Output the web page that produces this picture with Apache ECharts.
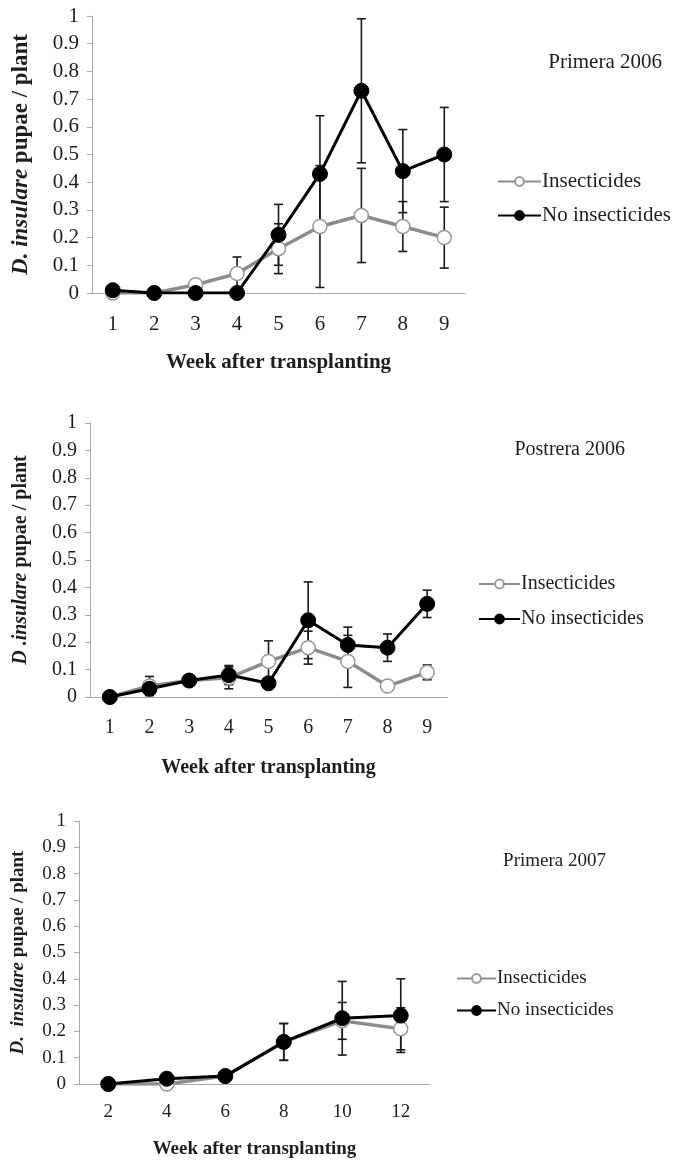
<!DOCTYPE html>
<html>
<head>
<meta charset="utf-8">
<script src="https://cdn.jsdelivr.net/npm/echarts@6/dist/echarts.min.js"></script>
<style>
html,body{margin:0;padding:0;background:#fff;}
#c{width:673px;height:1160px;}
</style>
</head>
<body>
<div id="c"></div>
<script>
// ---- data ----
var weeks1 = ['1','2','3','4','5','6','7','8','9'];
var p1Ins    = [0, 0, 0.03, 0.07, 0.16, 0.24, 0.28, 0.24, 0.20];
var p1InsErr = [0, 0, 0, 0.06, 0.09, 0.22, 0.17, 0.09, 0.11];
var p1No     = [0.01, 0, 0, 0, 0.21, 0.43, 0.73, 0.44, 0.50];
var p1NoErr  = [0, 0, 0, 0, 0.11, 0.21, 0.26, 0.15, 0.17];

var weeks2 = ['1','2','3','4','5','6','7','8','9'];
var p2Ins    = [0, 0.04, 0.06, 0.07, 0.13, 0.18, 0.13, 0.04, 0.09];
var p2InsErr = [0, 0.035, 0, 0.04, 0.075, 0.06, 0.095, 0, 0.027];
var p2No     = [0, 0.03, 0.06, 0.08, 0.05, 0.28, 0.19, 0.18, 0.34];
var p2NoErr  = [0, 0.02, 0, 0.035, 0, 0.14, 0.065, 0.05, 0.05];

var weeks3 = ['2','4','6','8','10','12'];
var p3Ins    = [0, 0, 0.03, 0.16, 0.24, 0.21];
var p3InsErr = [0, 0, 0, 0.07, 0.07, 0.08];
var p3No     = [0, 0.02, 0.03, 0.16, 0.25, 0.26];
var p3NoErr  = [0, 0, 0, 0.07, 0.14, 0.14];

var panelTitles = ['Primera 2006', 'Postrera 2006', 'Primera 2007'];
var yNames = ['D. insulare', 'D .insulare', 'D.  insulare'];
var xName = 'Week after transplanting';
var seriesNames = ['Insecticides', 'No insecticides'];

// ---- styles ----
var FONT = 'Liberation Serif';
var GRAY = '#8c8c8c';
var AXIS = '#a8a8a8';
var TXT = '#1e1e1e';

var chart = echarts.init(document.getElementById('c'), null, {renderer:'canvas'});

var grids = [
  {left:92, top:16, width:373, height:277},
  {left:90, top:423, width:357, height:274},
  {left:79, top:821, width:351, height:263}
];
var cats = [weeks1, weeks2, weeks3];
var ins = [p1Ins, p2Ins, p3Ins], insErr = [p1InsErr, p2InsErr, p3InsErr];
var no = [p1No, p2No, p3No], noErr = [p1NoErr, p2NoErr, p3NoErr];

function errData(vals, errs){
  var out = [];
  for (var i=0;i<vals.length;i++){
    if (errs[i] > 0) out.push([i, vals[i]-errs[i], vals[i]+errs[i]]);
  }
  return out;
}
function errRender(params, api){
  var x = api.value(0), lo = api.value(1), hi = api.value(2);
  var t = api.coord([x, hi]), b = api.coord([x, lo]);
  var w = 4.5;
  var st = {stroke:'#1a1a1a', lineWidth:1.6};
  return {type:'group', children:[
    {type:'line', shape:{x1:t[0],y1:t[1],x2:b[0],y2:b[1]}, style:st},
    {type:'line', shape:{x1:t[0]-w,y1:t[1],x2:t[0]+w,y2:t[1]}, style:st},
    {type:'line', shape:{x1:b[0]-w,y1:b[1],x2:b[0]+w,y2:b[1]}, style:st}
  ]};
}

var xAxes = [], yAxes = [], series = [], titles = [], legends = [];
var fs = [21, 20, 19];          // tick / legend / axis-name font sizes per panel
var yNameFs = [23, 20, 19];
var labelMarginX = [21, 21, 19];
var nameGapX = [59, 61, 56];
var nameGapY = [59, 59, 51];
var titlePos = [[6,47],[43,435],[62,847]];   // right, top
var legendPos = [[497,171,13,43],[478,574,15,41],[456,969,13,39]];

for (var k=0;k<3;k++){
  xAxes.push({
    type:'category', gridIndex:k, data:cats[k], boundaryGap:true,
    axisLine:{lineStyle:{color:AXIS, width:1}},
    axisTick:{show:false},
    axisLabel:{color:TXT, fontFamily:FONT, fontSize:fs[k], margin:labelMarginX[k]},
    name:xName, nameLocation:'middle', nameGap:nameGapX[k],
    nameTextStyle:{color:TXT, fontFamily:FONT, fontSize:fs[k], fontWeight:'bold'}
  });
  yAxes.push({
    type:'value', gridIndex:k, min:0, max:1, interval:0.1,
    splitLine:{show:false},
    axisLine:{show:true, lineStyle:{color:AXIS, width:1}},
    axisTick:{show:true, length:5, lineStyle:{color:AXIS}},
    axisLabel:{color:TXT, fontFamily:FONT, fontSize:fs[k], margin:13},
    name:'{i|' + yNames[k] + '}{b| pupae / plant}',
    nameLocation:'middle', nameRotate:90, nameGap:nameGapY[k],
    nameTextStyle:{color:TXT, fontFamily:FONT, fontSize:yNameFs[k],
      rich:{
        i:{fontFamily:FONT, fontSize:yNameFs[k], fontWeight:'bold', fontStyle:'italic', color:TXT},
        b:{fontFamily:FONT, fontSize:yNameFs[k], fontWeight:'bold', color:TXT}
      }}
  });
  series.push({
    type:'custom', name:'errIns'+k, xAxisIndex:k, yAxisIndex:k, z:1,
    renderItem:errRender, data:errData(ins[k], insErr[k]), silent:true
  });
  series.push({
    type:'custom', name:'errNo'+k, xAxisIndex:k, yAxisIndex:k, z:1,
    renderItem:errRender, data:errData(no[k], noErr[k]), silent:true
  });
  series.push({
    type:'line', name:seriesNames[0], xAxisIndex:k, yAxisIndex:k, z:3,
    data:ins[k], symbol:'circle', symbolSize:14, showAllSymbol:true,
    lineStyle:{color:GRAY, width:3.5},
    itemStyle:{color:'#ffffff', borderColor:'#999999', borderWidth:1.5},
    animation:false
  });
  series.push({
    type:'line', name:seriesNames[1], xAxisIndex:k, yAxisIndex:k, z:4,
    data:no[k], symbol:'circle', symbolSize:15, showAllSymbol:true,
    lineStyle:{color:'#000', width:3},
    itemStyle:{color:'#000', borderColor:'#000', borderWidth:1},
    animation:false
  });
  titles.push({
    text:panelTitles[k], right:titlePos[k][0], top:titlePos[k][1],
    textStyle:{fontFamily:FONT, fontSize:fs[k], fontWeight:'normal', color:TXT}
  });
  legends.push({
    data:seriesNames, orient:'vertical', left:legendPos[k][0], top:legendPos[k][1],
    itemWidth:legendPos[k][3], itemHeight:11, itemGap:legendPos[k][2], padding:0,
    selectedMode:false,
    textStyle:{fontFamily:FONT, fontSize:fs[k], color:TXT, padding:[0,0,0,-4]}
  });
}

chart.setOption({
  animation:false,
  backgroundColor:'#fff',
  title:titles,
  legend:legends,
  grid:grids,
  xAxis:xAxes,
  yAxis:yAxes,
  series:series
});
</script>
</body>
</html>
